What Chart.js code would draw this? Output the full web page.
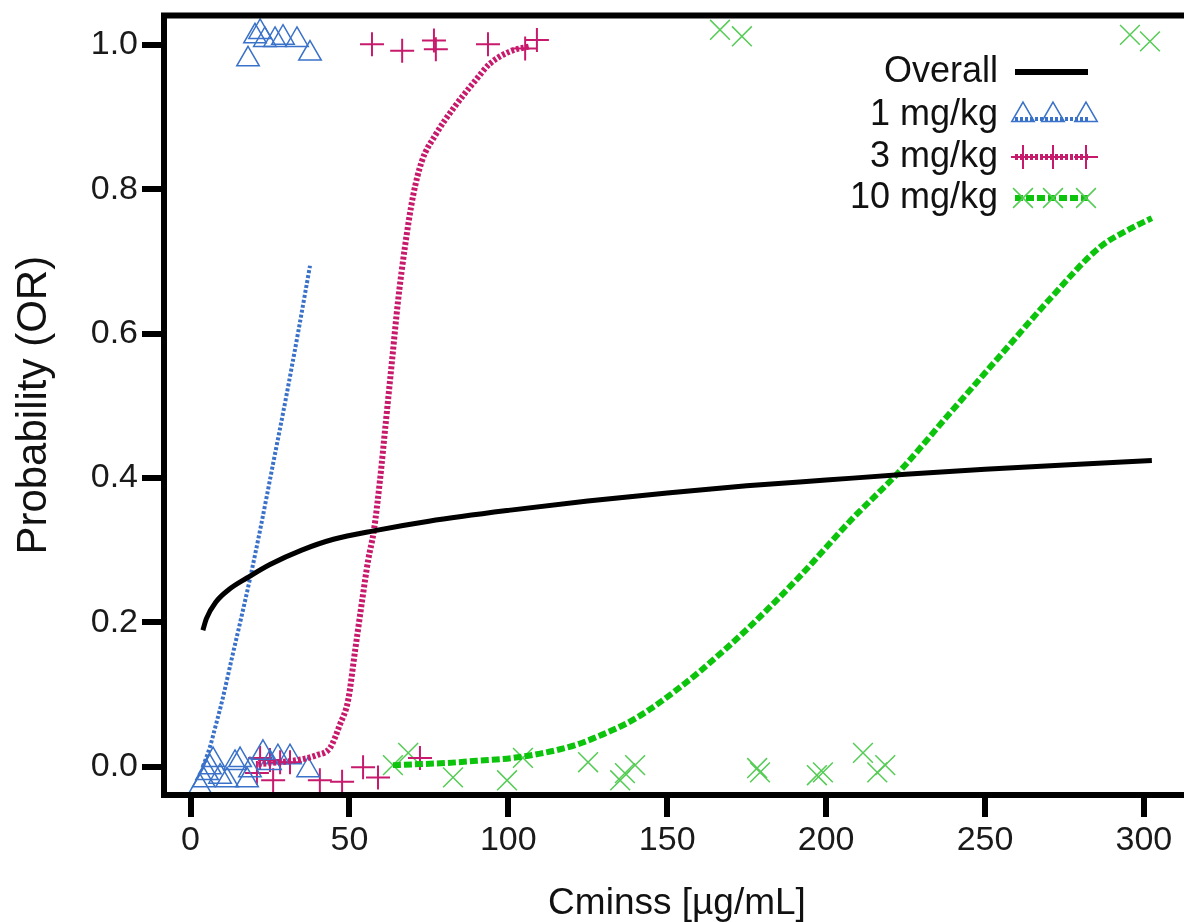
<!DOCTYPE html>
<html>
<head>
<meta charset="utf-8">
<title>Probability (OR) vs Cminss</title>
<script src="https://cdn.jsdelivr.net/npm/chart.js@4.4.1/dist/chart.umd.min.js"></script>
<style>
  html, body { margin: 0; padding: 0; background: #fff; overflow: hidden; }
  #wrap { width: 1220px; height: 922px; }
</style>
</head>
<body>
<div id="wrap"><canvas id="chart" width="1220" height="922"></canvas></div>
<script>
// axis ticks
const xTickValues = [0, 50, 100, 150, 200, 250, 300];
const yTickValues = [0, 0.2, 0.4, 0.6, 0.8, 1.0];

// fitted curves
const overallX = [3.9, 5, 8, 12, 18, 25, 35, 45, 58, 75, 100, 125, 150, 175, 200, 225, 250, 275, 302.5];
const overallY = [0.189, 0.205, 0.228, 0.245, 0.262, 0.28, 0.3, 0.315, 0.327, 0.34, 0.355, 0.368, 0.379, 0.389, 0.397, 0.405, 0.412, 0.418, 0.424];

const dose1CurveX = [3.9, 5, 6.1, 8, 10, 13, 16, 18.7, 22, 26, 30, 34, 37.6];
const dose1CurveY = [0.0, 0.013, 0.027, 0.058, 0.092, 0.15, 0.207, 0.26, 0.33, 0.42, 0.51, 0.605, 0.694];

const dose3CurveX = [21.3, 25, 30, 35, 39.8, 43.9, 47.0, 49.6, 51.8, 54.0, 55.9, 57.7, 59.6, 61.5, 63.4, 65.3, 67.5, 70.0, 72.8, 76.9, 83.2, 89.5, 94.2, 100.5, 106.8];
const dose3CurveY = [0.003, 0.005, 0.007, 0.01, 0.016, 0.026, 0.058, 0.092, 0.161, 0.23, 0.286, 0.327, 0.396, 0.479, 0.562, 0.645, 0.721, 0.79, 0.839, 0.874, 0.915, 0.95, 0.974, 0.991, 0.998];

const dose10CurveX = [63.7, 70, 80.7, 90, 101.5, 110, 116.3, 122.6, 128.9, 137.3, 144.8, 152, 160.3, 176, 191.8, 207.5, 223.3, 239, 254.7, 270.4, 286.2, 295.6, 302.5];
const dose10CurveY = [0.002, 0.003, 0.005, 0.008, 0.012, 0.018, 0.024, 0.032, 0.043, 0.06, 0.08, 0.103, 0.132, 0.194, 0.264, 0.34, 0.41, 0.49, 0.569, 0.648, 0.72, 0.745, 0.76];

// observed responses (jittered around 0 and 1)
const dose1PtsX = [18.1, 20.3, 21.9, 23.4, 26.6, 29.1, 33.5, 37.6,
  3.0, 4.2, 5.2, 6.1, 7.1, 9.3, 11.5, 14.0, 15.6, 17.8, 18.7, 22.8, 25.0, 27.5, 31.3, 37.0];
const dose1PtsY = [0.98, 1.012, 1.018, 1.007, 1.007, 1.01, 1.007, 0.988,
  -0.028, -0.019, -0.009, -0.001, 0.009, -0.014, -0.019, 0.005, 0.009, -0.019, -0.005, 0.019, 0.005, 0.013, 0.013, -0.005];

const dose3PtsX = [57.1, 66.6, 76.6, 77.2, 93.6, 105.3, 109.0,
  21.9, 20.9, 25.0, 26.0, 28.2, 31.3, 40.7, 47.7, 54.3, 59.0, 72.2];
const dose3PtsY = [1.001, 0.992, 1.006, 0.994, 1.001, 0.995, 1.007,
  0.012, -0.009, 0.009, -0.019, 0.006, 0.006, -0.019, -0.021, -0.001, -0.015, 0.012];

const dose10PtsX = [166.6, 173.5, 295.6, 301.9,
  63.7, 68.5, 82.6, 99.6, 104.6, 125.1, 135.2, 136.7, 139.9, 178.3, 179.2, 197.1, 199.0, 211.6, 216.1, 218.6];
const dose10PtsY = [1.021, 1.012, 1.014, 1.005,
  0.002, 0.019, -0.015, -0.019, 0.012, 0.006, -0.019, -0.009, 0.002, -0.002, -0.008, -0.012, -0.008, 0.019, -0.008, 0.002];

const legendLabels = ['Overall', '1 mg/kg', '3 mg/kg', '10 mg/kg'];

const BLUE = '#3a72c9';
const MAGENTA = '#c81a6c';
const GREEN_LINE = '#0cc40c';
const GREEN_PT = '#55cc55';
const FONT = '"Liberation Sans", Arial, Helvetica, sans-serif';

const toPts = (xs, ys) => xs.map((x, i) => ({ x: x, y: ys[i] }));

// legend drawn on the right side, text left of the symbol
const legendItems = [
  { label: legendLabels[0], y: 72, color: '#000', width: 6, dash: [], style: null },
  { label: legendLabels[1], y: 115, color: BLUE, width: 4, dash: [3, 2], style: 'triangle', r: 13, bw: 1.5, lineDy: 4 },
  { label: legendLabels[2], y: 157, color: MAGENTA, width: 6, dash: [3, 2], style: 'cross', r: 12, bw: 2, lineDy: 0 },
  { label: legendLabels[3], y: 198, color: GREEN_LINE, width: 6, dash: [8, 3], style: 'crossRot', r: 14, bw: 1.5, ptColor: GREEN_PT, lineDy: 0 }
];
const legendMarkX = [1023, 1053, 1086];

const legendPlugin = {
  id: 'sideLegend',
  afterDatasetsDraw(chart) {
    const ctx = chart.ctx;
    ctx.save();
    ctx.font = '36px ' + FONT;
    ctx.textAlign = 'right';
    ctx.textBaseline = 'middle';
    legendItems.forEach(it => {
      ctx.fillStyle = '#111';
      ctx.fillText(it.label, 998, it.y);
      const ly = it.y + (it.lineDy || 0);
      ctx.strokeStyle = it.color;
      ctx.lineWidth = it.width;
      ctx.setLineDash(it.dash);
      ctx.beginPath();
      ctx.moveTo(1015, ly);
      ctx.lineTo(1088, ly);
      ctx.stroke();
      ctx.setLineDash([]);
      if (it.style) {
        ctx.strokeStyle = it.ptColor || it.color;
        ctx.fillStyle = 'rgba(0,0,0,0)';
        ctx.lineWidth = it.bw;
        legendMarkX.forEach(mx => {
          Chart.helpers.drawPoint(ctx, { pointStyle: it.style, radius: it.r, rotation: 0, borderWidth: it.bw }, mx, it.y);
        });
      }
    });
    ctx.restore();
  },
  afterDraw(chart) {
    // black box round the plot area
    const a = chart.chartArea;
    const ctx = chart.ctx;
    ctx.save();
    ctx.strokeStyle = '#000';
    ctx.lineWidth = 6;
    ctx.strokeRect(a.left, a.top, a.right - a.left, a.bottom - a.top);
    ctx.restore();
  }
};

const curve = (label, xs, ys, color, width, dash) => ({
  type: 'line', label: label, data: toPts(xs, ys),
  borderColor: color, borderWidth: width, borderDash: dash,
  pointRadius: 0, fill: false, cubicInterpolationMode: 'monotone', order: 1
});

const marks = (label, xs, ys, color, style, r, bw) => ({
  type: 'scatter', label: label, data: toPts(xs, ys),
  borderColor: color, backgroundColor: 'rgba(0,0,0,0)',
  pointStyle: style, pointRadius: r, pointBorderWidth: bw, showLine: false, order: 2
});

// keep the tick label overhang from shrinking the plot area
const noEdgePad = s => { s.paddingTop = 0; s.paddingBottom = 0; s.paddingLeft = 0; s.paddingRight = 0; };

new Chart(document.getElementById('chart'), {
  type: 'scatter',
  data: {
    datasets: [
      curve('Overall', overallX, overallY, '#000', 5, []),
      curve('1 mg/kg', dose1CurveX, dose1CurveY, BLUE, 4, [3, 2]),
      curve('3 mg/kg', dose3CurveX, dose3CurveY, MAGENTA, 6, [3, 2]),
      curve('10 mg/kg', dose10CurveX, dose10CurveY, GREEN_LINE, 6, [8, 3]),
      marks('1 mg/kg obs', dose1PtsX, dose1PtsY, BLUE, 'triangle', 13, 1.5),
      marks('3 mg/kg obs', dose3PtsX, dose3PtsY, MAGENTA, 'cross', 12, 2),
      marks('10 mg/kg obs', dose10PtsX, dose10PtsY, GREEN_PT, 'crossRot', 14, 1.5)
    ]
  },
  options: {
    responsive: false,
    animation: false,
    layout: { padding: { top: 14, right: 30, left: 0, bottom: 0 } },
    plugins: {
      legend: { display: false },
      tooltip: { enabled: false }
    },
    scales: {
      x: {
        type: 'linear',
        min: -8.34,
        max: 314.5,
        afterFit: s => { s.height = 127; noEdgePad(s); },
        afterBuildTicks: s => { s.ticks = xTickValues.map(v => ({ value: v })); },
        ticks: { font: { family: FONT, size: 34 }, color: '#1a1a1a', padding: 3, maxRotation: 0, autoSkip: false },
        grid: { drawOnChartArea: false, drawTicks: true, tickLength: 22, lineWidth: 6, color: '#000' },
        border: { display: false },
        title: { display: true, text: 'Cminss [µg/mL]', color: '#111', font: { family: FONT, size: 37, lineHeight: 1 }, padding: { top: 0, bottom: 0 } }
      },
      y: {
        type: 'linear',
        min: -0.0394,
        max: 1.0408,
        afterFit: s => { s.width = 164; noEdgePad(s); },
        afterBuildTicks: s => { s.ticks = yTickValues.map(v => ({ value: v })); },
        ticks: { font: { family: FONT, size: 34 }, color: '#1a1a1a', padding: 4, callback: v => v.toFixed(1) },
        grid: { drawOnChartArea: false, drawTicks: true, tickLength: 22, lineWidth: 6, color: '#000' },
        border: { display: false },
        title: { display: true, text: 'Probability (OR)', color: '#111', font: { family: FONT, size: 42, lineHeight: 1 }, padding: { top: 13, bottom: 0 } }
      }
    }
  },
  plugins: [legendPlugin]
});
</script>
</body>
</html>
